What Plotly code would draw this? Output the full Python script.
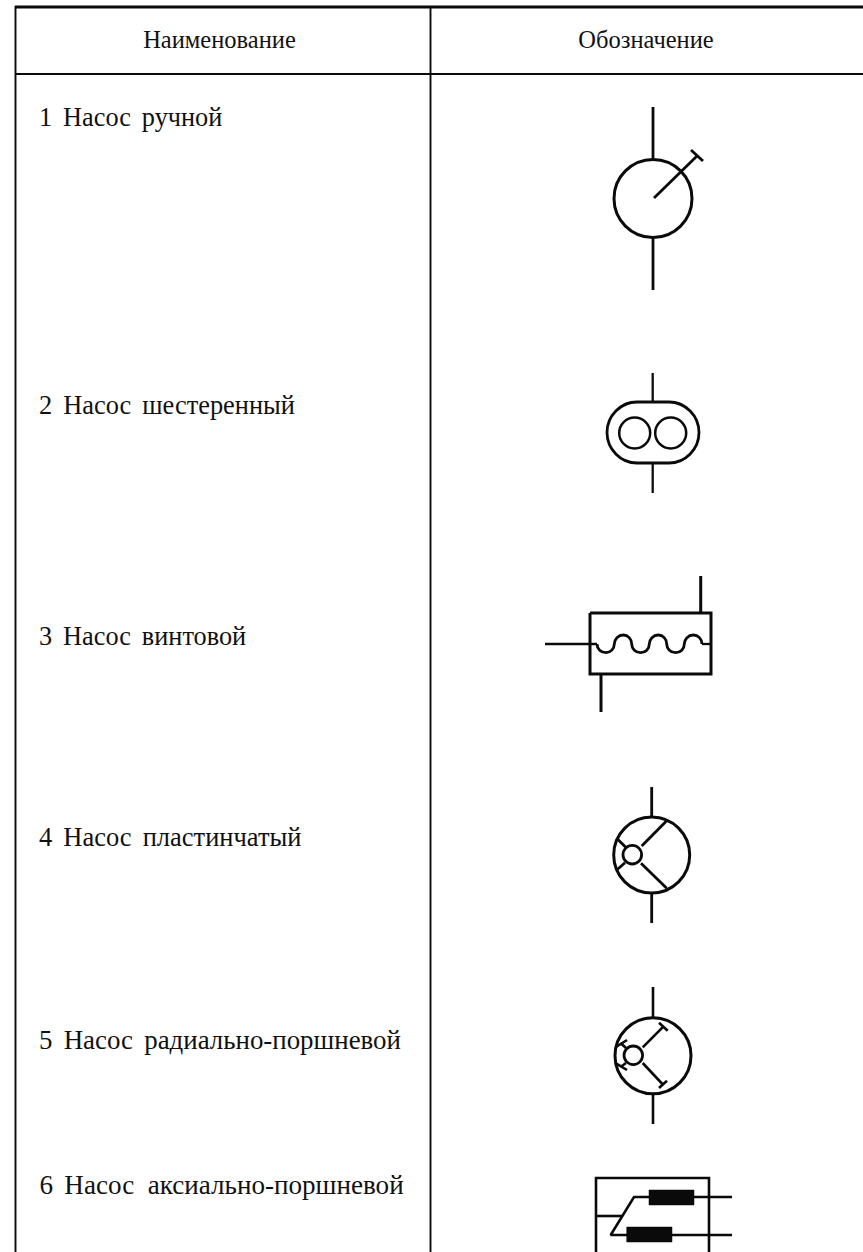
import plotly.graph_objects as go

W, H = 863, 1252
FONT = "Liberation Serif"
INK = "#0a0a0a"

# table text
header_labels = ["Наименование", "Обозначение"]
header_x = [219.5, 646]
header_y = [41.5, 41.5]
row_labels = [
    "1\u00a0\u2006Насос\u00a0\u2006ручной",
    "2\u00a0\u2006Насос\u00a0\u2006шестеренный",
    "3\u00a0\u2006Насос\u00a0\u2006винтовой",
    "4\u00a0\u2006Насос\u00a0\u2006пластинчатый",
    "5\u00a0\u2006Насос\u00a0\u2006радиально-поршневой",
    "6\u00a0\u2006Насос\u00a0\u00a0аксиально-поршневой",
]
row_x = [39, 39, 39, 39, 39, 39.5]
row_y = [119, 407.5, 638.5, 839, 1042, 1187]
row_sizes = [26.3, 26.4, 26.3, 26.5, 26.9, 27.1]

# table rules: (x list, y list, width)
rules = [
    ([15, 863], [7, 7], 3),
    ([15, 863], [74, 74], 1.9),
    ([15.5, 15.5], [6, 1252], 1.9),
    ([430.5, 430.5], [6, 1252], 1.9),
]

# circles: (cx, cy, r, width)
circles = [
    (653, 198.5, 39, 3),
    (634.7, 433, 15.5, 2.5),
    (670.7, 433, 15.5, 2.5),
    (651.7, 855, 38, 3),
    (632.3, 854.7, 9.3, 2.8),
    (653, 1055.7, 38, 3),
    (633.3, 1055.3, 9.3, 2.8),
]

# straight strokes: (x list, y list, width)
strokes = [
    # hand pump
    ([653, 653], [107, 160], 2.8),
    ([653, 653], [237, 290], 2.8),
    ([654, 697], [198, 156], 2.8),
    ([691, 703], [150, 161], 2.8),
    # gear pump
    ([652.7, 652.7], [373, 402], 2.3),
    ([652.7, 652.7], [463, 493], 2.3),
    # screw pump
    ([590, 711, 711, 590, 590], [613, 613, 674, 674, 613], 3),
    ([700.7, 700.7], [576, 613], 3),
    ([545, 597], [644, 644], 2.3),
    ([601, 601], [674, 712], 3),
    ([702, 711], [644, 644], 2.3),
    # vane pump
    ([651.7, 651.7], [787, 817], 2.8),
    ([651.7, 651.7], [893, 923], 2.8),
    ([641.7, 666.7], [846, 820.7], 2.8),
    ([641, 666.7], [863.3, 888.3], 2.8),
    ([616.7, 625.7], [838.3, 847.3], 2.8),
    ([616.7, 625], [870, 862.7], 2.8),
    # radial piston pump
    ([653, 653], [987, 1017], 2.6),
    ([653, 653], [1094, 1124], 2.6),
    ([642.7, 663.3], [1047.3, 1026.7], 2.6),
    ([659, 667.7], [1022.7, 1030.7], 2.6),
    ([642.7, 663.3], [1063, 1085], 2.6),
    ([659, 667], [1088, 1080.7], 2.6),
    ([626, 620.5], [1048, 1043], 2.6),
    ([616, 627], [1047, 1040], 2.6),
    ([626, 620.5], [1063, 1067], 2.6),
    ([616, 627], [1063.3, 1070], 2.6),
    # axial piston pump
    ([596, 596, 709, 709], [1252, 1178, 1178, 1252], 2.6),
    ([732, 634, 610.7, 732], [1197, 1197, 1235, 1235], 2.6),
    ([596, 622], [1216, 1216], 2.6),
]

# filled blocks: (x0, x1, y0, y1)
blocks = [(649, 694, 1190, 1205), (626.7, 672, 1227, 1242)]

# gear pump stadium outline
stadium_left, stadium_right = 607, 699
stadium_top, stadium_bottom = 402, 463
stadium_corner = 30

# screw wave: crossing / extremum knots
wave_x = [597, 606, 614.3, 623.3, 631.7, 640.7, 649.3, 658.3, 666.7, 675.7, 684.3, 693.3, 702]
wave_y = [644, 652.7, 644, 635, 644, 652.7, 644, 635, 644, 652.7, 644, 635, 644]

fig = go.Figure()

for xs, ys, w in rules + strokes:
    fig.add_trace(go.Scatter(x=xs, y=ys, mode="lines", line=dict(color=INK, width=w), hoverinfo="skip"))

for x0, x1, y0, y1 in blocks:
    fig.add_trace(go.Scatter(x=[x0, x1, x1, x0, x0], y=[y0, y0, y1, y1, y0], mode="lines",
                             fill="toself", fillcolor=INK, line=dict(color=INK, width=0.5), hoverinfo="skip"))

shapes = [
    dict(type="circle", xref="x", yref="y", x0=cx - r, x1=cx + r, y0=cy - r, y1=cy + r,
         line=dict(color=INK, width=w), fillcolor="rgba(0,0,0,0)")
    for cx, cy, r, w in circles
]
L, R, T, B, c = stadium_left, stadium_right, stadium_top, stadium_bottom, stadium_corner
k = 0.55 * c
m = (T + B) / 2
shapes.append(dict(
    type="path", xref="x", yref="y", line=dict(color=INK, width=2.8),
    path=(f"M {L + c},{T} L {R - c},{T} C {R - c + k},{T} {R},{m - k} {R},{m} "
          f"C {R},{m + k} {R - c + k},{B} {R - c},{B} L {L + c},{B} "
          f"C {L + c - k},{B} {L},{m + k} {L},{m} C {L},{m - k} {L + c - k},{T} {L + c},{T} Z"),
))

# wave as quarter-ellipse cubic segments between the knots
wave_path = f"M {wave_x[0]},{wave_y[0]}"
for i in range(len(wave_x) - 1):
    x0, y0, x1, y1 = wave_x[i], wave_y[i], wave_x[i + 1], wave_y[i + 1]
    if i % 2 == 0:  # leaves a crossing vertically, arrives at an extremum horizontally
        wave_path += f" C {x0},{y0 + 0.55 * (y1 - y0)} {x1 - 0.55 * (x1 - x0)},{y1} {x1},{y1}"
    else:           # leaves an extremum horizontally, arrives at a crossing vertically
        wave_path += f" C {x0 + 0.55 * (x1 - x0)},{y0} {x1},{y1 - 0.55 * (y1 - y0)} {x1},{y1}"
shapes.append(dict(type="path", xref="x", yref="y", line=dict(color=INK, width=2.8), path=wave_path))

fig.add_trace(go.Scatter(x=header_x, y=header_y, mode="text", text=header_labels,
                         textposition="middle center",
                         textfont=dict(family=FONT, size=24.5, color="#111111"), hoverinfo="skip"))
fig.add_trace(go.Scatter(x=row_x, y=row_y, mode="text", text=row_labels,
                         textposition="middle right",
                         textfont=dict(family=FONT, size=row_sizes, color="#111111"), hoverinfo="skip"))

fig.update_layout(
    width=W, height=H, autosize=False, showlegend=False,
    margin=dict(l=0, r=0, t=0, b=0),
    paper_bgcolor="white", plot_bgcolor="white",
    shapes=shapes,
    xaxis=dict(range=[0, W], visible=False, fixedrange=True),
    yaxis=dict(range=[H, 0], visible=False, fixedrange=True),
)
fig.write_html("out.html", config=dict(displayModeBar=False),
               post_script="document.body.style.margin='0';document.body.style.overflow='hidden';")
